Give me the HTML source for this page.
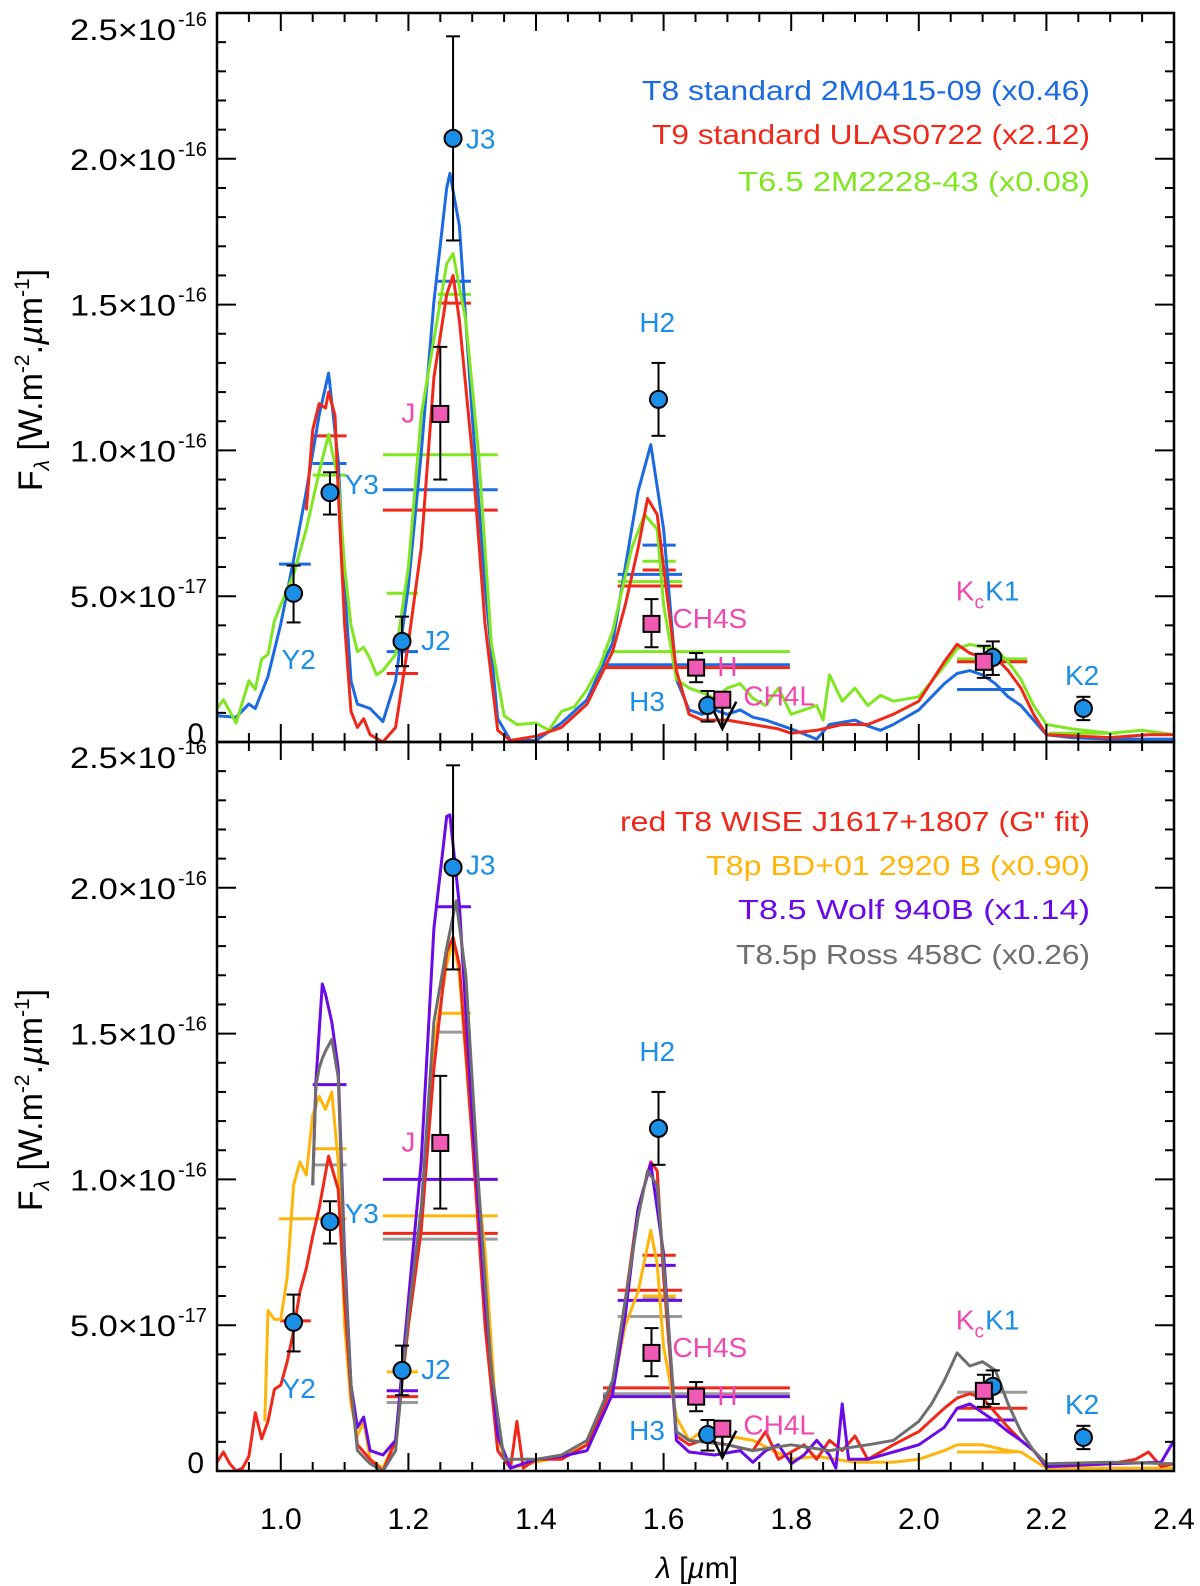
<!DOCTYPE html>
<html><head><meta charset="utf-8"><style>
html,body{margin:0;padding:0;background:#fff}
svg{display:block;font-family:"Liberation Sans",sans-serif}
</style></head><body>
<svg id="chart" width="1200" height="1586" viewBox="0 0 1200 1586" xmlns="http://www.w3.org/2000/svg">
<defs>
<clipPath id="clipTop"><rect x="217" y="13" width="957" height="729"/></clipPath>
<clipPath id="clipBot"><rect x="217" y="742" width="957" height="729"/></clipPath>
</defs>
<g id="topG"></g>
<g id="botG"></g>
<g id="axesG"></g>
</svg>
<script>
// ---- data (flux in units of 5e-18 W m^-2 um^-1) ----
const t8Top = [[0.9,1.8],[0.93,1.7],[0.95,2.6],[0.96,2.3],[0.98,4.5],[1.0,8.1],[1.02,12.5],[1.04,17.2],[1.06,22.4],[1.075,25.3],[1.09,19.3],[1.1,10.7],[1.11,4.2],[1.12,2.6],[1.14,2.3],[1.16,1.4],[1.18,4.2],[1.2,10.7],[1.22,19.8],[1.24,30.2],[1.26,38],[1.265,39],[1.28,35.4],[1.3,22.4],[1.32,10.7],[1.34,1.6],[1.36,0.1],[1.4,0.1],[1.44,1.3],[1.48,2.9],[1.52,6.8],[1.54,12],[1.56,17.2],[1.58,20.4],[1.6,14.6],[1.62,4.3],[1.64,2.2],[1.66,1.9],[1.68,2.2],[1.7,1.9],[1.72,2.2],[1.74,1.7],[1.76,1.5],[1.8,0.9],[1.84,0.2],[1.86,1.2],[1.9,1.5],[1.92,1.1],[1.94,0.8],[1.96,1.2],[2.0,2.2],[2.04,4.0],[2.06,4.7],[2.08,4.9],[2.1,4.6],[2.12,4.0],[2.14,3.1],[2.16,2.5],[2.18,1.5],[2.2,0.5],[2.24,0.3],[2.3,0.2],[2.4,0.2]];
const t9Top = [[1.04,15.9],[1.05,21.4],[1.06,23.2],[1.07,22.9],[1.075,24],[1.085,22.4],[1.09,17.2],[1.1,8.1],[1.11,2.1],[1.12,1.0],[1.13,1.6],[1.14,0.5],[1.16,0],[1.18,1],[1.2,6.8],[1.22,13.3],[1.24,25],[1.26,30.7],[1.27,32],[1.28,28.9],[1.3,19.8],[1.32,8.1],[1.34,0.8],[1.36,0.1],[1.4,0.4],[1.44,1.0],[1.48,2.6],[1.52,6.2],[1.54,9.4],[1.56,13.3],[1.575,16.7],[1.59,15.6],[1.6,12],[1.62,4.9],[1.64,1.9],[1.66,1.5],[1.7,1.5],[1.74,1.2],[1.78,0.9],[1.8,0.6],[1.84,0.8],[1.88,1.2],[1.92,1.2],[1.96,1.9],[2.0,2.8],[2.04,5.5],[2.06,6.7],[2.08,6.1],[2.1,5.8],[2.12,5.8],[2.14,4.9],[2.16,3.7],[2.18,1.9],[2.2,0.5],[2.3,0.3],[2.36,0.5],[2.4,0.5]];
const t65Top = [[0.9,2.3],[0.91,2.9],[0.92,2.1],[0.93,1.3],[0.95,4.2],[0.96,3.6],[0.97,5.7],[0.98,6.0],[0.99,8.3],[1.0,9.4],[1.02,11.5],[1.04,14.6],[1.06,18.5],[1.075,21.1],[1.09,18],[1.1,12],[1.11,8],[1.12,6.2],[1.13,6.5],[1.14,5.7],[1.15,4.6],[1.16,4.9],[1.18,6],[1.2,12],[1.22,22.4],[1.24,27.6],[1.26,32.8],[1.27,33.5],[1.29,28.9],[1.31,19.8],[1.33,6.8],[1.35,1.8],[1.37,1.2],[1.4,1.3],[1.42,0.8],[1.44,2.1],[1.46,2.4],[1.48,3.6],[1.5,5.2],[1.52,7.6],[1.55,13.3],[1.57,15.6],[1.59,14.6],[1.6,9.4],[1.62,4.3],[1.64,3.7],[1.66,3.4],[1.68,3.0],[1.7,3.7],[1.72,4],[1.74,3.0],[1.76,2.5],[1.78,3.7],[1.8,1.9],[1.82,2.2],[1.84,2.5],[1.85,1.5],[1.86,4.6],[1.88,2.8],[1.9,3.7],[1.92,2.5],[1.94,3.2],[1.96,2.8],[2.0,3.1],[2.04,5.2],[2.06,6.4],[2.08,6.7],[2.1,6.5],[2.12,6.4],[2.14,5.5],[2.16,4.3],[2.18,2.5],[2.2,1.2],[2.24,0.9],[2.3,0.6],[2.35,0.8],[2.4,0.5]];
const wiseBot = [[0.9,0.6],[0.91,1.3],[0.92,0.5],[0.93,0],[0.94,0.2],[0.95,1],[0.96,4],[0.97,2.2],[0.98,3.4],[0.99,5.6],[1.0,5.9],[1.01,7.5],[1.02,9.6],[1.03,12.3],[1.04,13.9],[1.05,16.1],[1.06,18],[1.075,21.6],[1.09,19.3],[1.1,11.7],[1.11,5.3],[1.12,1.8],[1.14,0.8],[1.16,0],[1.18,2.1],[1.2,10],[1.22,16.5],[1.24,27.6],[1.26,35.6],[1.27,36.6],[1.28,34.7],[1.3,22.8],[1.32,10],[1.34,1.4],[1.36,0.2],[1.37,3.4],[1.38,0.2],[1.4,0.8],[1.44,0.8],[1.48,1.8],[1.52,5.9],[1.54,11.7],[1.56,18],[1.58,21.2],[1.59,20.6],[1.6,13.3],[1.62,2.4],[1.64,1.8],[1.66,2.1],[1.7,1.8],[1.74,1.4],[1.76,2.7],[1.78,0.8],[1.82,1.8],[1.84,0.8],[1.86,2.1],[1.88,1.4],[1.9,2.4],[1.92,0.8],[1.96,1.8],[2.0,2.7],[2.04,4.3],[2.06,5],[2.08,5.3],[2.1,5],[2.12,4],[2.14,3],[2.16,2.1],[2.18,1.4],[2.2,0.3],[2.3,0.5],[2.34,0.8],[2.36,1.3],[2.38,0.3],[2.4,0.5]];
const bdBot = [[0.975,3.4],[0.98,11],[0.99,10.4],[1.0,10.4],[1.01,13.3],[1.02,19.6],[1.03,21.2],[1.04,20.3],[1.05,24.4],[1.06,25.7],[1.07,24.8],[1.08,26],[1.09,21.2],[1.1,10],[1.11,4.6],[1.12,2.4],[1.13,3.4],[1.14,0.8],[1.16,0.2],[1.18,2.1],[1.2,10],[1.22,16.5],[1.24,29.2],[1.26,34.7],[1.27,36.6],[1.28,34],[1.3,22.8],[1.32,15.2],[1.34,2.1],[1.36,0.2],[1.4,0.6],[1.44,1],[1.48,1.8],[1.52,5.6],[1.54,10],[1.56,12.3],[1.58,16.5],[1.59,14.2],[1.6,8.5],[1.62,3.7],[1.64,2.1],[1.66,2.7],[1.7,2.4],[1.74,2.1],[1.8,0.8],[1.84,1],[1.9,0.6],[1.96,0.6],[2.0,0.8],[2.04,1.4],[2.06,1.8],[2.1,1.8],[2.14,1.4],[2.16,1.3],[2.2,0.2],[2.4,0.2]];
const wolfBot = [[1.05,19.6],[1.055,26.7],[1.065,33.4],[1.07,32.7],[1.08,30.8],[1.09,27.6],[1.1,14.9],[1.11,5.9],[1.12,3],[1.13,3.7],[1.14,1.4],[1.16,1.1],[1.18,2.1],[1.2,11.7],[1.22,21.2],[1.24,37.2],[1.26,44.9],[1.265,45],[1.28,38.8],[1.3,24.4],[1.32,11.7],[1.34,2.4],[1.36,0.2],[1.4,0.8],[1.44,1],[1.48,1.4],[1.52,5.3],[1.54,10.7],[1.56,18],[1.58,21.1],[1.6,14.9],[1.62,2.1],[1.64,1.3],[1.68,1.1],[1.72,1.4],[1.74,0.6],[1.76,1.4],[1.78,1.8],[1.8,0.5],[1.82,1.1],[1.84,2.1],[1.86,1.1],[1.87,0.2],[1.88,4.6],[1.89,0.8],[1.92,0.8],[1.96,1.3],[2.0,1.8],[2.04,3],[2.06,4.3],[2.08,4.6],[2.1,4],[2.12,3.4],[2.14,2.7],[2.16,2.1],[2.18,1.4],[2.2,0.3],[2.3,0.5],[2.38,0.6],[2.4,2.1]];
const rossBot = [[1.05,19.6],[1.055,26.4],[1.06,27.6],[1.065,28.3],[1.07,28.8],[1.075,29.2],[1.08,29.6],[1.09,27],[1.1,14.2],[1.11,5.9],[1.12,1.4],[1.14,0.5],[1.16,0],[1.18,1.4],[1.2,10.7],[1.22,18],[1.24,30.8],[1.26,35.9],[1.275,39.1],[1.29,34],[1.31,19.6],[1.33,6.9],[1.35,0.8],[1.4,0.8],[1.44,1.1],[1.48,2.1],[1.52,6.2],[1.54,11.7],[1.56,17.4],[1.575,20.6],[1.59,19.6],[1.6,14.2],[1.62,2.7],[1.64,2.1],[1.7,1.8],[1.74,1.4],[1.8,1.8],[1.86,1.4],[1.92,1.8],[1.96,2.1],[2.0,3.4],[2.02,4.6],[2.04,6.2],[2.06,8.1],[2.08,7.2],[2.1,7.5],[2.12,6.9],[2.14,4.6],[2.16,2.7],[2.18,1.4],[2.2,0.5],[2.3,0.6],[2.4,0.5]];
// synthetic photometry bars: [series, lambdaStart, lambdaEnd, flux]
const barsTop = [["t8",0.997,1.047,12.2],["t8",1.05,1.103,19.1],["t9",1.05,1.103,21.0],["t65",1.05,1.103,18.3],
 ["t65",1.16,1.34,19.7],["t8",1.16,1.34,17.3],["t9",1.16,1.34,15.9],
 ["t8",1.166,1.215,6.2],["t65",1.166,1.215,10.2],["t9",1.166,1.215,4.7],
 ["t8",1.246,1.298,31.6],["t65",1.246,1.298,30.7],["t9",1.246,1.298,30.1],
 ["t8",1.567,1.619,13.5],["t65",1.567,1.619,12.4],["t9",1.567,1.619,11.8],
 ["t8",1.528,1.629,11.5],["t65",1.528,1.629,11.0],["t9",1.528,1.629,10.7],
 ["t65",1.505,1.798,6.2],["t8",1.505,1.798,5.3],["t9",1.505,1.798,5.1],
 ["t65",2.06,2.17,5.7],["t9",2.06,2.17,5.5],["t8",2.06,2.15,3.6],["t65",2.204,2.312,0.6]];
const barsBot = [["wise",0.999,1.047,10.3],["bd",0.997,1.103,17.3],
 ["wolf",1.05,1.103,26.5],["bd",1.05,1.103,22.1],["ross",1.05,1.103,21.0],
 ["wolf",1.16,1.34,20.0],["bd",1.16,1.34,17.5],["wise",1.16,1.34,16.3],["ross",1.16,1.34,15.9],
 ["bd",1.166,1.215,6.8],["wolf",1.166,1.215,5.5],["wise",1.166,1.215,5.1],["ross",1.166,1.215,4.7],
 ["wolf",1.246,1.298,38.7],["bd",1.246,1.298,31.4],["ross",1.246,1.298,30.1],
 ["wise",1.567,1.619,14.8],["wolf",1.567,1.619,14.1],["bd",1.567,1.619,12.0],["ross",1.567,1.619,11.8],
 ["wise",1.528,1.629,12.4],["wolf",1.528,1.629,11.7],["ross",1.528,1.629,10.6],
 ["wise",1.505,1.798,5.7],["ross",1.505,1.798,5.3],["wolf",1.505,1.798,5.1],
 ["ross",2.06,2.17,5.4],["wise",2.06,2.17,4.3],["wolf",2.06,2.15,3.5],["bd",2.06,2.15,1.3]];
// observed photometry: [name, lambda, flux, low, high]
const circlePts = [["Y2",1.02,10.2,8.2,12.1],["Y3",1.077,17.1,15.6,18.5],["J2",1.19,6.9,5.2,8.6],["J3",1.27,41.4,34.4,48.4],["H2",1.592,23.5,21.0,26.0],["H3",1.669,2.5,1.4,3.5],["K1",2.116,5.8,4.6,6.9],["K2",2.258,2.3,1.5,3.1]];
const squarePts = [["J",1.25,22.5,18.0,27.1],["CH4S",1.581,8.1,6.5,9.8],["H",1.651,5.1,4.1,6.1],["CH4L",1.692,2.9,0.9,3.5],["Kc",2.102,5.5,4.4,6.6]];
const xTicks = [1.0,1.2,1.4,1.6,1.8,2.0,2.2,2.4];
const xTickLabels = ["1.0","1.2","1.4","1.6","1.8","2.0","2.2","2.4"];
const yTicks = [0,10,20,30,40,50];
const yTickLabels = ["0","5.0","1.0","1.5","2.0","2.5"];
const yTickExp = ["","-17","-16","-16","-16","-16"];

const colors = {t8:"#1c6ae0",t9:"#f0281a",t65:"#80e622",wise:"#f0281a",bd:"#ffb60c",wolf:"#6a0ae6",ross:"#6e6e6e"};
const barColors = {t8:"#1c6ae0",t9:"#f0281a",t65:"#80e622",wise:"#f0281a",bd:"#ffb60c",wolf:"#6a0ae6",ross:"#9a9a9a"};
const NS="http://www.w3.org/2000/svg";
const X = l => 217 + (l-0.9)*638;
const panels = {top:{y0:742, g:document.getElementById('topG'), clip:"url(#clipTop)"}, bot:{y0:1471, g:document.getElementById('botG'), clip:"url(#clipBot)"}};
const Yf = (p,f) => panels[p].y0 - f*14.58;
function mk(tag, attrs, parent){const e=document.createElementNS(NS,tag);for(const k in attrs)e.setAttribute(k,attrs[k]);parent.appendChild(e);return e;}

function drawSpec(p, data, key, name){
  const d = data.map((pt,i)=>(i?"L":"M")+X(pt[0]).toFixed(1)+","+Yf(p,pt[1]).toFixed(1)).join("");
  const path = mk("path",{d:d,fill:"none",stroke:colors[key],"stroke-width":3,"stroke-linejoin":"round","clip-path":panels[p].clip},panels[p].g);
  
  
}
function drawBars(p, bars){
  bars.forEach(b=>{
    const ln = mk("line",{x1:X(b[1]),x2:X(b[2]),y1:Yf(p,b[3]),y2:Yf(p,b[3]),stroke:barColors[b[0]],"stroke-width":3},panels[p].g);
    
    
  });
}
function errBar(p, l, lo, hi){
  const g=panels[p].g, x=X(l);
  mk("line",{x1:x,x2:x,y1:Yf(p,lo),y2:Yf(p,hi),stroke:"#000","stroke-width":2},g);
  mk("line",{x1:x-7,x2:x+7,y1:Yf(p,lo),y2:Yf(p,lo),stroke:"#000","stroke-width":2},g);
  mk("line",{x1:x-7,x2:x+7,y1:Yf(p,hi),y2:Yf(p,hi),stroke:"#000","stroke-width":2},g);
}
function drawPoints(p){
  squarePts.forEach(s=>{
    if(s[0]==="CH4L"){
      const x=X(s[1]);
      mk("path",{d:`M${x},${Yf(p,s[3])}L${x},${Yf(p,s[4])}M${x-14},${Yf(p,s[2])}L${x},${Yf(p,s[3])}L${x+14},${Yf(p,s[2])+2}`,fill:"none",stroke:"#000","stroke-width":2.5},panels[p].g);
    } else errBar(p,s[1],s[3],s[4]);
  });
  circlePts.forEach(c=>{
    errBar(p,c[1],c[3],c[4]);
    const e=mk("ellipse",{cx:X(c[1]),cy:Yf(p,c[2]),rx:8.5,ry:8.5,fill:"#1b8fe6",stroke:"#000","stroke-width":2},panels[p].g);
    
    
  });
  squarePts.forEach(s=>{
    const r=mk("rect",{x:X(s[1])-8,y:Yf(p,s[2])-8,width:16,height:16,fill:"#f05ab4",stroke:"#000","stroke-width":2},panels[p].g);
    
    
  });
}
function label(p, txt, l, f, col, anchor){
  const t=mk("text",{x:X(l),y:Yf(p,f)+10,fill:col,"font-size":28,"text-anchor":anchor||"start"},panels[p].g);
  t.textContent=txt;
  
  
  return t;
}
function filterLabels(p, j3f){
  const B="#1b8fe6", P="#f048b0";
  label(p,"Y2",1.028,5.7,B,"middle");
  label(p,"Y3",1.10,17.7,B);
  label(p,"J2",1.22,7,B);
  label(p,"J",1.2,22.6,P,"middle");
  label(p,"J3",1.29,j3f,B);
  label(p,"H2",1.59,28.8,B,"middle");
  label(p,"CH4S",1.614,8.5,P);
  label(p,"H",1.684,5.2,P);
  label(p,"H3",1.574,2.8,B,"middle");
  label(p,"CH4L",1.725,3.2,P);
  const kc=label(p,"K",2.058,10.4,P);
  const sub=mk("tspan",{"font-size":19,dy:8},kc); sub.textContent="c";
  label(p,"K1",2.104,10.4,B);
  label(p,"K2",2.256,4.6,B,"middle");
}
function legend(lines, ys){
  lines.forEach((ln,i)=>{
    const t=mk("text",{x:1090,y:ys[i],fill:ln[1],"font-size":28,"text-anchor":"end",textLength:ln[2],lengthAdjust:"spacingAndGlyphs"},document.getElementById('axesG'));
    t.textContent=ln[0];
    
    
  });
}

// top panel
drawBars("top", barsTop);
drawSpec("top", t8Top, "t8", "t8-standard-spectrum");
drawSpec("top", t65Top, "t65", "t6.5-spectrum");
drawSpec("top", t9Top, "t9", "t9-standard-spectrum");
drawPoints("top");
filterLabels("top", 41.4);
// bottom panel
drawBars("bot", barsBot);
drawSpec("bot", bdBot, "bd", "bd012920b-spectrum");
drawSpec("bot", wiseBot, "wise", "wise-j1617-spectrum");
drawSpec("bot", wolfBot, "wolf", "wolf940b-spectrum");
drawSpec("bot", rossBot, "ross", "ross458c-spectrum");
drawPoints("bot");
filterLabels("bot", 41.6);

legend([["T8 standard 2M0415-09 (x0.46)","#1c6ae0",448],["T9 standard ULAS0722 (x2.12)","#f0281a",438],["T6.5 2M2228-43  (x0.08)","#80e622",352]],[100,144,191]);
legend([["red T8 WISE J1617+1807 (G\" fit)","#f0281a",470],["T8p BD+01 2920 B (x0.90)","#ffb60c",384],["T8.5 Wolf 940B (x1.14)","#6a0ae6",352],["T8.5p Ross 458C (x0.26)","#6e6e6e",354]],[831,875,919,964]);

// axes
const ax=document.getElementById('axesG');
["top","bot"].forEach(p=>{
  const y0=panels[p].y0, yt=y0-729;
  const fr=mk("rect",{x:217,y:yt,width:957,height:729,fill:"none",stroke:"#000","stroke-width":2.5},ax);
  
  
  for(let i=0;i<=30;i++){
    const l=0.9+i*0.05, x=X(l);
    const major = Math.abs(((l-1.0)/0.2)-Math.round((l-1.0)/0.2))<1e-6;
    const len = major?18:9;
    mk("line",{x1:x,x2:x,y1:y0,y2:y0-len,stroke:"#000","stroke-width":2},ax);
    mk("line",{x1:x,x2:x,y1:yt,y2:yt+len,stroke:"#000","stroke-width":2},ax);
  }
  for(let f=0;f<=50;f+=2){
    const y=Yf(p,f), len=(f%10===0)?19:9;
    mk("line",{x1:217,x2:217+len,y1:y,y2:y,stroke:"#000","stroke-width":2},ax);
    mk("line",{x1:1174,x2:1174-len,y1:y,y2:y,stroke:"#000","stroke-width":2},ax);
  }
  yTicks.forEach((f,i)=>{
    let cy=Yf(p,f);
    if(i===0) cy-=9;
    if(i===5 && p==="top") cy+=16;
    if(i===5 && p==="bot") cy+=15;
    if(i===0){
      const t=mk("text",{x:204,y:cy+11,"font-size":30,"text-anchor":"end",fill:"#000"},ax);
      t.textContent=yTickLabels[i];
      
      
    } else {
      const t=mk("text",{x:70,y:cy+11,"font-size":30,fill:"#000",textLength:106,lengthAdjust:"spacingAndGlyphs"},ax);
      t.textContent=yTickLabels[i]+"\u00d710";
      
      
      const e=mk("text",{x:178,y:cy-3,"font-size":20,fill:"#000"},ax);
      e.textContent=yTickExp[i];
    }
  });
  const title=mk("text",{transform:`translate(42,${p==="top"?380:1100}) rotate(-90)`,"font-size":34,"text-anchor":"middle",fill:"#000"},ax);
  
  
  title.innerHTML='F<tspan font-size="21" dy="7" font-style="italic">λ</tspan><tspan dy="-7"> [W.m</tspan><tspan font-size="21" dy="-13">-2</tspan><tspan dy="13">.</tspan><tspan font-style="italic">µ</tspan><tspan>m</tspan><tspan font-size="21" dy="-13">-1</tspan><tspan dy="13">]</tspan>';
});
xTicks.forEach((l,i)=>{
  const t=mk("text",{x:X(l),y:1529,"font-size":30,"text-anchor":"middle",fill:"#000"},ax);
  t.textContent=xTickLabels[i];
  
  
});
const xt=mk("text",{x:697,y:1578,"font-size":30,"text-anchor":"middle",fill:"#000"},ax);


xt.innerHTML='<tspan font-style="italic">λ</tspan> [<tspan font-style="italic">µ</tspan>m]';
</script>
</body></html>
